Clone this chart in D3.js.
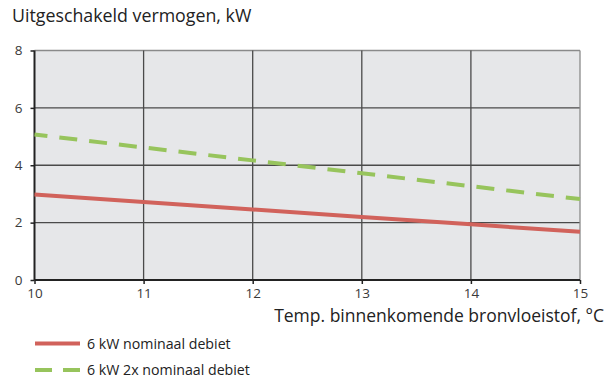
<!DOCTYPE html>
<html>
<head>
<meta charset="utf-8">
<script src="https://cdn.jsdelivr.net/npm/d3@7"></script>
<style>
  html, body { margin: 0; padding: 0; background: #fff; }
  svg { display: block; font-family: "Open Sans", "Noto Sans", sans-serif; }
</style>
</head>
<body>
<svg id="chart" width="613" height="379"></svg>
<script>
// Inlet brine temperature (°C)
const temps = [10, 11, 12, 13, 14, 15];
// Switched-off capacity (kW), nominal flow
const nominalFlow = [2.98, 2.72, 2.46, 2.20, 1.94, 1.68];
// Switched-off capacity (kW), 2x nominal flow
const doubleFlow = [5.07, 4.62, 4.17, 3.72, 3.27, 2.82];
const yTicks = [0, 2, 4, 6, 8];
const xTicks = [10, 11, 12, 13, 14, 15];
const seriesNames = ["6 kW nominaal debiet", "6 kW 2x nominaal debiet"];

const svg = d3.select("#chart");
const plotLeft = 34.5, plotRight = 580, plotTop = 50.5, plotBottom = 280;

const x = d3.scaleLinear().domain([10, 15]).range([plotLeft, plotRight]);
const y = d3.scaleLinear().domain([0, 8]).range([plotBottom, plotTop]);

// plot background
svg.append("rect")
  .attr("x", plotLeft).attr("y", plotTop)
  .attr("width", plotRight - plotLeft).attr("height", plotBottom - plotTop)
  .attr("fill", "#e6e7e9");

// grid
const grid = svg.append("g").attr("stroke-width", 1.3);
yTicks.filter(d => d > 0).forEach(d => {
  grid.append("line").attr("x1", plotLeft).attr("x2", plotRight)
    .attr("y1", y(d)).attr("y2", y(d))
    .attr("stroke", d === 8 ? "#8a8a8a" : "#4a4a4a");
});
xTicks.filter(d => d > 10).forEach(d => {
  grid.append("line").attr("x1", x(d)).attr("x2", x(d))
    .attr("y1", plotTop).attr("y2", plotBottom)
    .attr("stroke", d === 15 ? "#8a8a8a" : "#4a4a4a");
});

// axes
const fmt = d3.format("d");
const yAxis = svg.append("g")
  .attr("transform", `translate(${plotLeft},0)`)
  .call(d3.axisLeft(y).tickValues(yTicks).tickFormat(fmt).tickSize(4).tickPadding(8));
const xAxis = svg.append("g")
  .attr("transform", `translate(0,${plotBottom})`)
  .call(d3.axisBottom(x).tickValues(xTicks).tickFormat(fmt).tickSize(4).tickPadding(4));

[yAxis, xAxis].forEach(a => {
  a.select(".domain").attr("stroke", "#222").attr("stroke-width", 2);
  a.selectAll(".tick line").attr("stroke", "#222").attr("stroke-width", 1.5);
  a.selectAll(".tick text").attr("fill", "#3a3a3a")
    .attr("font-size", 13.5).attr("font-family", "\"Open Sans\", \"Noto Sans\", sans-serif");
});
yAxis.select(".domain").attr("d", `M0,${plotTop}V${plotBottom}`);
xAxis.select(".domain").attr("d", `M${plotLeft},0H${plotRight}`);

// series
const line = d3.line().x((d, i) => x(temps[i])).y(d => y(d));

svg.append("path").datum(doubleFlow)
  .attr("d", line).attr("fill", "none")
  .attr("stroke", "#97c45c").attr("stroke-width", 4)
  .attr("stroke-dasharray", "18 12").attr("stroke-dashoffset", 5);

svg.append("path").datum(nominalFlow)
  .attr("d", line).attr("fill", "none")
  .attr("stroke", "#d1625b").attr("stroke-width", 4);

// titles
svg.append("text").attr("x", 12).attr("y", 22)
  .attr("font-size", 17.8).attr("fill", "#222")
  .text("Uitgeschakeld vermogen, kW");

svg.append("text").attr("x", 604).attr("y", 322)
  .attr("text-anchor", "end")
  .attr("font-size", 17.5).attr("fill", "#222")
  .text("Temp. binnenkomende bronvloeistof, °C");

// legend
const legend = svg.append("g");
legend.append("line").attr("x1", 35).attr("x2", 80).attr("y1", 343.5).attr("y2", 343.5)
  .attr("stroke", "#d1625b").attr("stroke-width", 4);
legend.append("line").attr("x1", 35).attr("x2", 80).attr("y1", 370).attr("y2", 370)
  .attr("stroke", "#97c45c").attr("stroke-width", 4).attr("stroke-dasharray", "17 11");
legend.selectAll("text.lg").data(seriesNames).join("text")
  .attr("class", "lg")
  .attr("x", 87).attr("y", (d, i) => 348.5 + i * 26)
  .attr("font-size", 14.2).attr("fill", "#222")
  .text(d => d);
</script>
</body>
</html>
